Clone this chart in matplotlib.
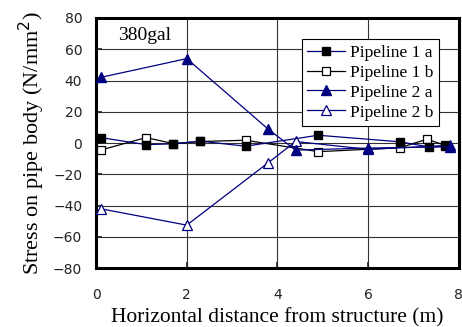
import matplotlib.pyplot as plt
import numpy as np

# data
x_p1a = [0.1, 1.1, 1.7, 2.3, 3.3, 4.9, 6.7, 7.35, 7.7]
y_p1a = [3.5, -1.0, -0.5, 1.2, -2.0, 5.0, 0.8, -2.5, -1.8]

x_p1b = [0.1, 1.1, 1.7, 2.3, 3.3, 4.9, 6.7, 7.3, 7.7]
y_p1b = [-4.5, 3.5, -0.3, 1.0, 1.8, -5.5, -3.0, 2.5, -1.5]

x_p2a = [0.1, 2.0, 3.8, 4.4, 6.0, 7.8]
y_p2a = [42.0, 54.0, 8.8, -4.5, -3.2, -2.4]

x_p2b = [0.1, 2.0, 3.8, 4.4, 6.0, 7.8]
y_p2b = [-42.0, -52.5, -12.5, 1.0, -4.0, -1.5]

xticks = [0, 2, 4, 6, 8]
yticks = [-80, -60, -40, -20, 0, 20, 40, 60, 80]

navy = "#000080"

fig = plt.figure(figsize=(4.62, 3.27), dpi=100)
ax = fig.add_axes([0.208, 0.18, 0.785, 0.765])

ax.plot(x_p1a, y_p1a, "-s", color=navy, lw=0.9, mfc="black", mec="black",
        ms=6, label="Pipeline 1 a", zorder=4)
ax.plot(x_p1b, y_p1b, "-s", color="black", lw=0.9, mfc="white", mec="black",
        ms=6, mew=0.9, label="Pipeline 1 b", zorder=3)
ax.plot(x_p2a, y_p2a, "-^", color=navy, lw=0.9, mfc=navy, mec=navy,
        ms=6.5, label="Pipeline 2 a", zorder=4)
ax.plot(x_p2b, y_p2b, "-^", color=navy, lw=0.9, mfc="white", mec=navy,
        ms=6.5, mew=0.9, label="Pipeline 2 b", zorder=3)

ax.set_xlim(0, 8)
ax.set_ylim(-80, 80)
ax.set_xticks(xticks)
ax.set_yticks(yticks)
ax.tick_params(direction="in", length=4, width=1.2, labelsize=10,
               colors="#222222")
ax.tick_params(axis="x", pad=14)
ax.tick_params(axis="y", pad=10)
ax.grid(True, color="#333333", lw=0.8)
ax.set_axisbelow(True)
for s in ax.spines.values():
    s.set_linewidth(2.2)

serif = "Liberation Serif"
ax.set_xlabel("Horizontal distance from structure (m)", family=serif,
              fontsize=15.5, labelpad=5)
ax.set_ylabel("Stress on pipe body (N/mm$^2$)", family=serif, fontsize=16,
              labelpad=4)
ax.text(0.135, 0.93, "380gal", transform=ax.transAxes, family=serif,
        fontsize=14, ha="center", va="center")

leg = ax.legend(loc="upper right", bbox_to_anchor=(0.945, 0.915),
                prop={"family": serif, "size": 12.5}, fancybox=False,
                edgecolor="black", framealpha=1, numpoints=1,
                handlelength=2.2, borderpad=0.3, labelspacing=0.22,
                handletextpad=0.3, borderaxespad=0)
leg.get_frame().set_linewidth(0.8)

plt.savefig("out.png", dpi=100)
